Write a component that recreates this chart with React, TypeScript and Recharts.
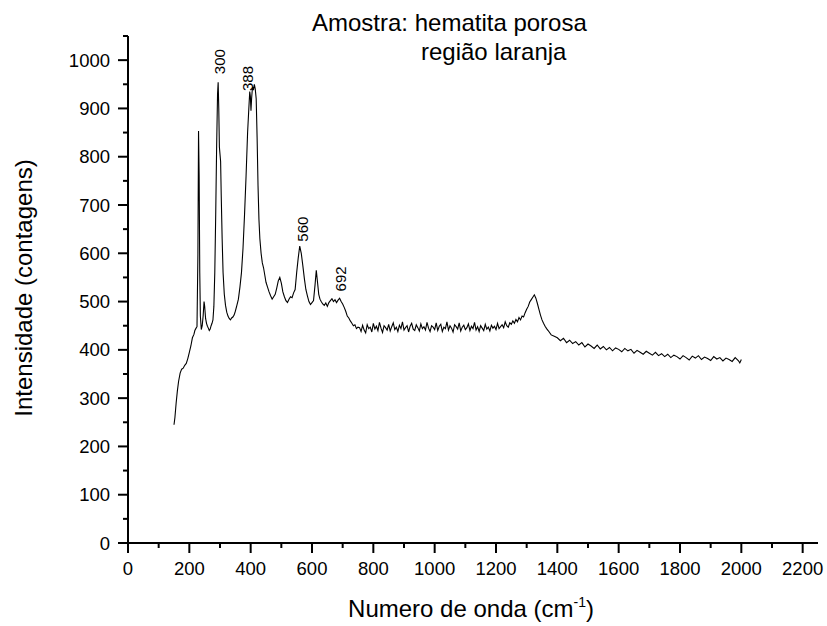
import React from 'react';
import { ComposedChart, Line, Scatter, XAxis, YAxis } from 'recharts';

// Raman shift (cm-1) and intensity (counts)
const shiftLow = [
  150, 153, 157, 161, 165, 170, 175, 180, 185, 190, 195, 200, 205, 210, 215, 218, 222, 225, 228, 230,
  232, 234, 236, 239, 242, 245, 248, 250, 253, 256, 259, 262, 265, 268, 271, 274, 277, 280, 283, 286,
  289, 292, 294, 296, 298, 300, 302, 304, 307, 310, 314, 318, 322, 326, 330, 334, 338, 342, 346, 350,
  355, 360, 365, 370, 375, 380, 385, 390, 394, 397, 399, 401, 403, 406, 409, 412, 415, 418, 421, 424,
  427, 430, 434, 438, 442, 446, 450, 455, 460, 465, 470, 475, 480, 485, 490, 495, 500, 505, 510, 515,
  520, 525, 530, 535, 540, 545, 550, 555, 560, 565, 570, 575, 580, 585, 590, 595, 600, 605, 610, 614,
  618, 622, 626, 630, 635, 640, 645, 650, 655, 660, 665, 670, 675, 680, 685, 690, 695, 700, 705, 710,
  715, 720, 725, 730, 735, 740, 745, 750,
];
const countsLow = [
  245, 260, 290, 315, 335, 352, 360, 362, 368, 372, 382, 395, 408, 425, 432, 440, 445, 448, 600, 853,
  760, 560, 470, 442, 450, 470, 500, 490, 465, 455, 449, 445, 440, 443, 450, 455, 462, 490, 560, 680,
  820, 930, 954, 900, 820, 805, 790, 720, 630, 560, 515, 492, 478, 470, 465, 462, 466, 468, 472, 480,
  492, 505, 530, 560, 610, 680, 760, 850, 900, 935, 925, 895, 920, 945, 938, 950, 940, 920, 840, 740,
  670, 630, 600, 580, 570, 555, 540, 530, 520, 512, 505, 510, 515, 528, 543, 550, 538, 520, 510, 502,
  498, 505, 510, 508, 518, 525, 560, 590, 615, 600, 575, 548, 525, 512, 500, 494, 498, 502, 535, 565,
  540, 515, 505, 500, 495, 492, 497, 490, 498, 502, 506, 500, 504, 498, 503, 507, 500, 495, 488, 480,
  470, 466, 460, 455, 450, 452, 444, 447,
];
const shiftHigh = [
  755, 760, 765, 770, 775, 780, 785, 790, 795, 800, 805, 810, 815, 820, 825, 830, 835, 840, 845, 850,
  855, 860, 865, 870, 875, 880, 885, 890, 895, 900, 905, 910, 915, 920, 925, 930, 935, 940, 945, 950,
  955, 960, 965, 970, 975, 980, 985, 990, 995, 1000, 1005, 1010, 1015, 1020, 1025, 1030, 1035, 1040, 1045, 1050,
  1055, 1060, 1065, 1070, 1075, 1080, 1085, 1090, 1095, 1100, 1105, 1110, 1115, 1120, 1125, 1130, 1135, 1140, 1145, 1150,
  1155, 1160, 1165, 1170, 1175, 1180, 1185, 1190, 1195, 1200, 1205, 1210, 1215, 1220, 1225, 1230, 1235, 1240, 1245, 1250,
  1255, 1260, 1265, 1270, 1275, 1280, 1285, 1290, 1295, 1300, 1305, 1310, 1315, 1320, 1325, 1330, 1335, 1340, 1345, 1350,
  1355, 1360, 1365, 1370, 1380, 1390, 1400, 1410, 1420, 1430, 1440, 1450, 1460, 1470, 1480, 1490, 1500, 1510, 1520, 1530,
  1540, 1550, 1560, 1570, 1580, 1590, 1600, 1610, 1620, 1630, 1640, 1650, 1660, 1670, 1680, 1690, 1700, 1710, 1720, 1730,
  1740, 1750, 1760, 1770, 1780, 1790, 1800, 1810, 1820, 1830, 1840, 1850, 1860, 1870, 1880, 1890, 1900, 1910, 1920, 1930,
  1940, 1950, 1960, 1970, 1980, 1990, 1995, 2000,
];
const countsHigh = [
  446, 438, 451, 441, 435, 452, 444, 447, 437, 455, 443, 449, 440, 457, 445, 436, 450, 446, 441, 453,
  439, 448, 456, 442, 447, 438, 451, 444, 458, 441, 446, 450, 437, 449, 455, 443, 440, 452, 446, 439,
  454, 444, 448, 441, 457, 445, 438, 450, 447, 442, 456, 440, 449, 453, 438, 447, 444, 458, 441, 450,
  445, 437, 452, 448, 443, 456, 439, 447, 451, 442, 446, 454, 440, 449, 444, 457, 441, 448, 438, 450,
  445, 440, 453, 443, 447, 439, 451, 445, 449, 442, 455, 444, 448, 452, 446, 458, 450, 447, 456, 453,
  460, 455, 463, 458, 467, 462, 470, 468, 477, 484, 490, 499, 504, 509, 514, 507, 496, 484, 472, 462,
  455, 449, 444, 440, 431, 428, 425, 419, 424, 415, 420, 413, 417, 410, 415, 406, 412, 408, 403, 410,
  402, 407, 400, 405, 398, 404, 401, 396, 403, 398, 401, 393, 399, 395, 391, 397, 393, 389, 395, 388,
  392, 386, 391, 384, 389, 386, 381, 388, 384, 379, 387, 383, 388, 380, 385, 382, 378, 386, 381, 384,
  377, 383, 380, 376, 384, 378, 373, 380,
];

// Peak annotations (text and the spot where each label starts)
const peakText = ['300', '388', '560', '692'];
const peakLabelShift = [300, 392, 571, 695];
const peakLabelCount = [971, 936, 624, 521];

const xTicks = [0, 100, 200, 300, 400, 500, 600, 700, 800, 900, 1000, 1100, 1200, 1300, 1400, 1500, 1600, 1700, 1800, 1900, 2000, 2100, 2200];
const yTicks = [0, 50, 100, 150, 200, 250, 300, 350, 400, 450, 500, 550, 600, 650, 700, 750, 800, 850, 900, 950, 1000, 1050];

const allShift = [...shiftLow, ...shiftHigh];
const allCounts = [...countsLow, ...countsHigh];
const spectrum = allShift.map((x, i) => ({ x, y: allCounts[i] }));
const peaks = peakText.map((label, i) => ({ x: peakLabelShift[i], y: peakLabelCount[i], label }));

const FONT = '"Liberation Sans", Arial, sans-serif';

const XTick = (props: any) => {
  const { x, y, payload } = props;
  const v = payload.value;
  const major = v % 200 === 0;
  return (
    <g>
      <line x1={x} x2={x} y1={y} y2={y + (major ? 10 : 5)} stroke="#000" strokeWidth={2} />
      {major && (
        <text x={x} y={y + 32} textAnchor="middle" fontSize={18.5} fontFamily={FONT} fill="#000">
          {v}
        </text>
      )}
    </g>
  );
};

const YTick = (props: any) => {
  const { x, y, payload } = props;
  const v = payload.value;
  const major = v % 100 === 0;
  return (
    <g>
      <line x1={x - (major ? 10 : 5)} x2={x} y1={y} y2={y} stroke="#000" strokeWidth={2} />
      {major && (
        <text x={x - 18} y={y + 6.5} textAnchor="end" fontSize={18.5} fontFamily={FONT} fill="#000">
          {v}
        </text>
      )}
    </g>
  );
};

const PeakLabel = (props: any) => {
  const { cx, cy, payload } = props;
  return (
    <text
      x={cx}
      y={cy}
      dy="0.35em"
      transform={`rotate(-90, ${cx}, ${cy})`}
      textAnchor="start"
      fontSize={15}
      fontFamily={FONT}
      fill="#000"
    >
      {payload.label}
    </text>
  );
};

export default function App() {
  return (
    <div style={{ position: 'absolute', left: 0, top: 0, width: 827, height: 626, background: '#fff' }}>
      <ComposedChart
        width={827}
        height={626}
        margin={{ top: 36, left: 127, right: 9, bottom: 82 }}
      >
        <XAxis
          type="number"
          dataKey="x"
          domain={[0, 2250]}
          ticks={xTicks}
          interval={0}
          height={1}
          tickSize={0}
          tickMargin={0}
          tickLine={false}
          tick={<XTick />}
          axisLine={{ stroke: '#000', strokeWidth: 2 }}
          allowDataOverflow
        />
        <YAxis
          type="number"
          dataKey="y"
          domain={[0, 1050]}
          ticks={yTicks}
          interval={0}
          width={1}
          tickSize={0}
          tickMargin={0}
          tickLine={false}
          tick={<YTick />}
          axisLine={{ stroke: '#000', strokeWidth: 2 }}
          allowDataOverflow
        />
        <Line
          data={spectrum}
          dataKey="y"
          type="linear"
          stroke="#000"
          strokeWidth={1.1}
          dot={false}
          isAnimationActive={false}
        />
        <Scatter data={peaks} dataKey="y" shape={<PeakLabel />} isAnimationActive={false} />
      </ComposedChart>
      <svg
        width={827}
        height={626}
        style={{ position: 'absolute', left: 0, top: 0, pointerEvents: 'none' }}
      >
        <text x={312} y={31} fontSize={24} fontFamily={FONT} fill="#000">
          Amostra: hematita porosa
        </text>
        <text x={421} y={60} fontSize={24} fontFamily={FONT} fill="#000">
          região laranja
        </text>
        <text
          x={32}
          y={288}
          transform="rotate(-90, 32, 288)"
          textAnchor="middle"
          fontSize={24}
          fontFamily={FONT}
          fill="#000"
        >
          Intensidade (contagens)
        </text>
        <text x={471} y={617} textAnchor="middle" fontSize={24} fontFamily={FONT} fill="#000">
          Numero de onda (cm
          <tspan fontSize={14} dy={-10}>-1</tspan>
          <tspan dy={10}>)</tspan>
        </text>
      </svg>
    </div>
  );
}
